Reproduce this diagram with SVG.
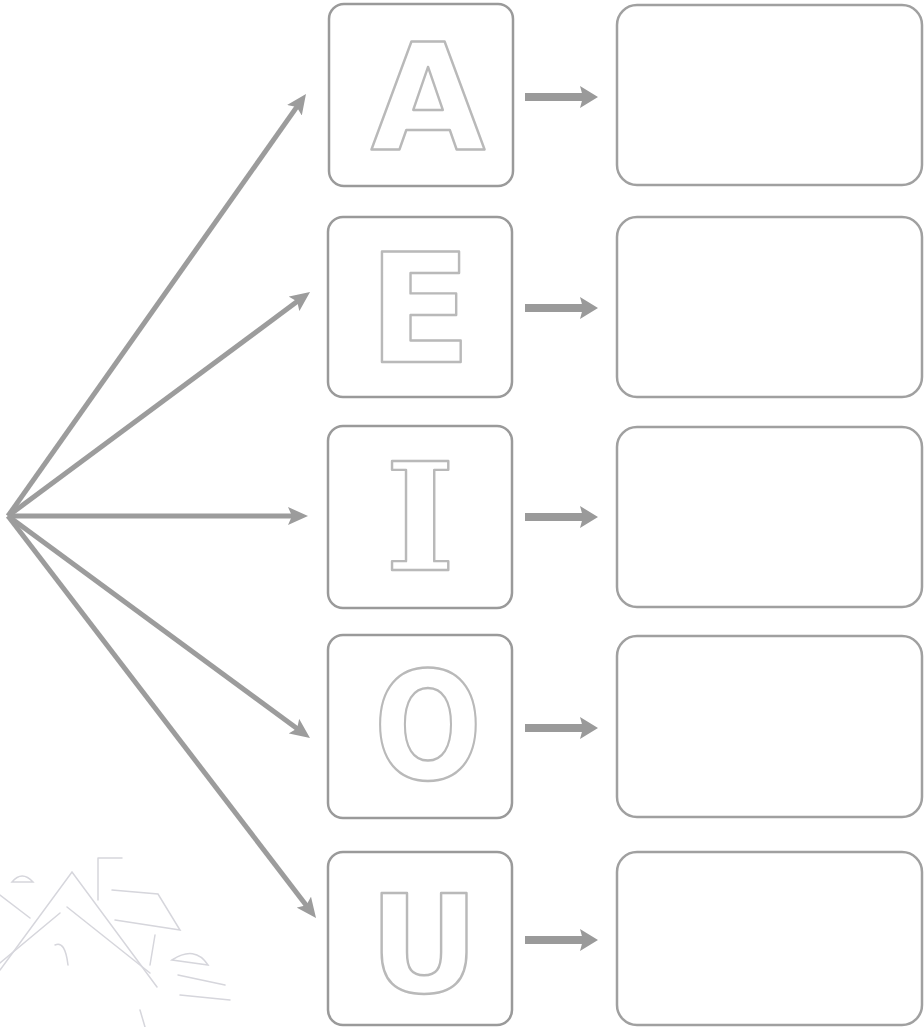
<svg xmlns="http://www.w3.org/2000/svg" width="924" height="1027" viewBox="0 0 924 1027">
<style>
.box{fill:#fff;stroke:#9a9a9a;stroke-width:2.5}
.ans{fill:#fff;stroke:#a0a0a0;stroke-width:2.5}
.letter{font-family:"DejaVu Sans",sans-serif;font-weight:bold;fill:#fff;stroke:#b9b9b9;stroke-width:2.4;stroke-linejoin:round;text-anchor:middle}
.fan{stroke:#9c9c9c;stroke-width:5;fill:none}
.small{stroke:#9a9a9a;stroke-width:8;fill:none}
.sketch{stroke:#d6d6dc;stroke-width:1.5;fill:none;stroke-linecap:round}
</style>
<defs>
<marker id="head" viewBox="0 0 20 18" refX="6" refY="9" markerWidth="20" markerHeight="18" markerUnits="userSpaceOnUse" orient="auto">
<path d="M0,0 L20,9 L0,18 L4,9 z" fill="#9c9c9c"/>
</marker>
<marker id="head2" viewBox="0 0 18 22" refX="3" refY="11" markerWidth="18" markerHeight="22" markerUnits="userSpaceOnUse" orient="auto">
<path d="M0,0 L18,11 L0,22 L3,11 z" fill="#9a9a9a"/>
</marker>
</defs>
<rect width="924" height="1027" fill="#fff"/>
<g id="sketch">
<path class="sketch" d="M0,970 L72,872 L157,987"/>
<path class="sketch" d="M0,963 L60,913"/>
<path class="sketch" d="M67,907 L150,973"/>
<path class="sketch" d="M0,895 L30,918"/>
<path class="sketch" d="M12,882 Q22,870 33,882 Z"/>
<path class="sketch" d="M98,858 L122,858 M98,858 L98,900 M112,890 L158,894 L180,930 L115,920"/>
<path class="sketch" d="M150,965 L155,935"/>
<path class="sketch" d="M172,960 Q195,945 208,965 Z M178,975 L225,985 M180,995 L230,1000"/>
<path class="sketch" d="M55,945 Q65,940 68,965"/>
<path class="sketch" d="M140,1010 L145,1027"/>
</g>
<g id="connectors">
<line class="fan" x1="8" y1="516" x2="297.9" y2="105.4" marker-end="url(#head)"/>
<line class="fan" x1="8" y1="516" x2="298.8" y2="300.3" marker-end="url(#head)"/>
<line class="fan" x1="8" y1="516" x2="294" y2="516" marker-end="url(#head)"/>
<line class="fan" x1="8" y1="516" x2="298.7" y2="729.7" marker-end="url(#head)"/>
<line class="fan" x1="8" y1="516" x2="307.5" y2="906.9" marker-end="url(#head)"/>
<line class="small" x1="525" y1="97" x2="583" y2="97" marker-end="url(#head2)"/>
<line class="small" x1="525" y1="308" x2="583" y2="308" marker-end="url(#head2)"/>
<line class="small" x1="525" y1="517" x2="583" y2="517" marker-end="url(#head2)"/>
<line class="small" x1="525" y1="728" x2="583" y2="728" marker-end="url(#head2)"/>
<line class="small" x1="525" y1="940" x2="583" y2="940" marker-end="url(#head2)"/>
</g>
<g id="node-a">
<rect class="box" x="329" y="4" width="184" height="182" rx="15"/>
<text class="letter" x="428" y="150" font-size="148">A</text>
</g>
<g id="node-e">
<rect class="box" x="328" y="217" width="184" height="180" rx="15"/>
<text class="letter" x="420" y="362" font-size="152">E</text>
</g>
<g id="node-i">
<rect class="box" x="328" y="426" width="184" height="182" rx="15"/>
<text class="letter" x="420" y="570" font-size="150" style="font-family:'DejaVu Serif',serif">I</text>
</g>
<g id="node-o">
<rect class="box" x="328" y="635" width="184" height="183" rx="15"/>
<text class="letter" transform="translate(428,779) scale(0.85,1)" x="0" y="0" font-size="150">O</text>
</g>
<g id="node-u">
<rect class="box" x="328" y="852" width="184" height="173" rx="15"/>
<text class="letter" x="424" y="992" font-size="135">U</text>
</g>
<g id="answer-a"><rect class="ans" x="617" y="5" width="305" height="180" rx="20"/></g>
<g id="answer-e"><rect class="ans" x="617" y="217" width="305" height="180" rx="20"/></g>
<g id="answer-i"><rect class="ans" x="617" y="427" width="305" height="180" rx="20"/></g>
<g id="answer-o"><rect class="ans" x="617" y="636" width="305" height="181" rx="20"/></g>
<g id="answer-u"><rect class="ans" x="617" y="852" width="305" height="173" rx="20"/></g>
</svg>
